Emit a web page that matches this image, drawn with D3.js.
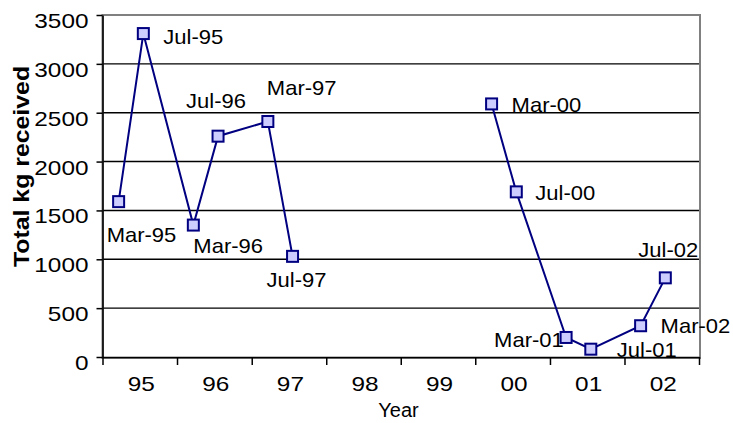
<!DOCTYPE html>
<html>
<head>
<meta charset="utf-8">
<script src="https://cdn.jsdelivr.net/npm/d3@7"></script>
<style>
  html, body { margin: 0; padding: 0; background: #ffffff; }
  svg { display: block; }
  text { font-family: "Liberation Sans", Arial, sans-serif; fill: #000; }
</style>
</head>
<body>
<svg id="chart" width="733" height="423"></svg>
<script>
// ---------------- data ----------------
const categories = ["95", "96", "97", "98", "99", "00", "01", "02"];
const pointLabels = ["Mar-95", "Jul-95", "Mar-96", "Jul-96", "Mar-97", "Jul-97",
                     "Mar-98", "Jul-98", "Mar-99", "Jul-99",
                     "Mar-00", "Jul-00", "Mar-01", "Jul-01", "Mar-02", "Jul-02"];
const pointDates = ["1995-03-21", "1995-07-20", "1996-03-21", "1996-07-20", "1997-03-21", "1997-07-20",
                    "1998-03-21", "1998-07-20", "1999-03-21", "1999-07-20",
                    "2000-03-21", "2000-07-20", "2001-03-21", "2001-07-20", "2002-03-21", "2002-07-20"];
const kgValues = [1590, 3310, 1350, 2260, 2410, 1030,
                  null, null, null, null,
                  2590, 1690, 200, 80, 320, 810];
const yTicks = [0, 500, 1000, 1500, 2000, 2500, 3000, 3500];
const xTitle = "Year";
const yTitle = "Total kg received";

// ---------------- layout (label placement, px offsets from marker) ----------------
const labelOffsets = {
  "Mar-95": [-12, 40], "Jul-95": [20, 10], "Mar-96": [0, 28], "Jul-96": [-32, -28],
  "Mar-97": [-1, -27], "Jul-97": [-26, 31], "Mar-00": [20, 8], "Jul-00": [19, 8],
  "Mar-01": [-72, 10], "Jul-01": [26, 8], "Mar-02": [20, 7], "Jul-02": [-27, -21]
};

const parse = d3.timeParse("%Y-%m-%d");
const data = pointLabels.map((l, i) => ({ label: l, date: parse(pointDates[i]), value: kgValues[i] }));

const svg = d3.select("#chart");
const L = 102.5, R = 700, T = 15, B = 357;

const x = d3.scaleTime().domain([new Date(1995, 0, 1), new Date(2003, 0, 1)]).range([L, R - 1]);
const xBand = d3.scaleBand().domain(categories).range([L, R - 1]);
const y = d3.scaleLinear().domain([0, 3500]).range([B, T]);

// gridlines
svg.append("g").selectAll("line")
  .data(yTicks.filter(v => v > 0 && v < 3500))
  .join("line")
  .attr("x1", L).attr("x2", R)
  .attr("y1", d => y(d)).attr("y2", d => y(d))
  .attr("stroke", "#000").attr("stroke-width", 1.4);

// plot-area border (grey)
svg.append("rect")
  .attr("x", L).attr("y", T).attr("width", R - L).attr("height", B - T + 1)
  .attr("fill", "none").attr("stroke", "#808080").attr("stroke-width", 2);

// line (gaps where no data)
const line = d3.line()
  .defined(d => d.value != null)
  .x(d => x(d.date)).y(d => y(d.value));
svg.append("path")
  .datum(data)
  .attr("d", line)
  .attr("fill", "none")
  .attr("stroke", "#000080")
  .attr("stroke-width", 2);

const present = data.filter(d => d.value != null);

// markers
const ms = 11;
svg.append("g").selectAll("rect")
  .data(present)
  .join("rect")
  .attr("x", d => x(d.date) - ms / 2)
  .attr("y", d => y(d.value) - ms / 2)
  .attr("width", ms).attr("height", ms)
  .attr("fill", "#ccccff")
  .attr("stroke", "#000080")
  .attr("stroke-width", 2);

// data labels
svg.append("g").selectAll("text")
  .data(present)
  .join("text")
  .attr("transform", d => {
    const o = labelOffsets[d.label] || [8, 0];
    return `translate(${x(d.date) + o[0]},${y(d.value) + o[1]}) scale(1.1,1)`;
  })
  .attr("font-size", 20)
  .text(d => d.label);

// y axis
const yAxis = svg.append("g")
  .attr("transform", `translate(${L},0)`)
  .call(d3.axisLeft(y).tickValues(yTicks).tickSizeInner(6).tickSizeOuter(0).tickFormat(d3.format("d")));
yAxis.select(".domain").attr("stroke", "#000").attr("stroke-width", 1.6);
yAxis.selectAll(".tick line").attr("stroke", "#000").attr("stroke-width", 1.5);
yAxis.selectAll(".tick text")
  .attr("x", null).attr("dy", null)
  .attr("transform", "translate(-14,12.5) scale(1.16,1)")
  .attr("text-anchor", "end")
  .attr("font-family", null)
  .attr("font-size", 21)
  .attr("fill", "#000");

// x axis tick marks at year boundaries
const xAxis = svg.append("g")
  .attr("transform", `translate(0,${B})`)
  .call(d3.axisBottom(x).tickValues(d3.timeYear.range(new Date(1995, 0, 1), new Date(2003, 0, 2))).tickSizeInner(8).tickSizeOuter(0).tickFormat(""));
xAxis.select(".domain").attr("stroke", "#000").attr("stroke-width", 1.6);
xAxis.selectAll(".tick line").attr("stroke", "#000").attr("stroke-width", 1.5);

// x category labels
const xLab = svg.append("g")
  .attr("transform", `translate(1.5,${B})`)
  .call(d3.axisBottom(xBand).tickSize(0).tickPadding(0));
xLab.select(".domain").remove();
xLab.selectAll(".tick text")
  .attr("y", null).attr("dy", null)
  .attr("transform", "translate(0,34) scale(1.16,1)")
  .attr("text-anchor", "middle")
  .attr("font-family", null)
  .attr("font-size", 21)
  .attr("fill", "#000");

// axis titles
svg.append("text")
  .attr("x", 398.5).attr("y", 416.5)
  .attr("text-anchor", "middle")
  .attr("font-size", 20)
  .text(xTitle);

svg.append("text")
  .attr("transform", "translate(28.5,166.5) rotate(-90) scale(1.13,1)")
  .attr("text-anchor", "middle")
  .attr("font-size", 22)
  .attr("font-weight", "bold")
  .text(yTitle);
</script>
</body>
</html>
